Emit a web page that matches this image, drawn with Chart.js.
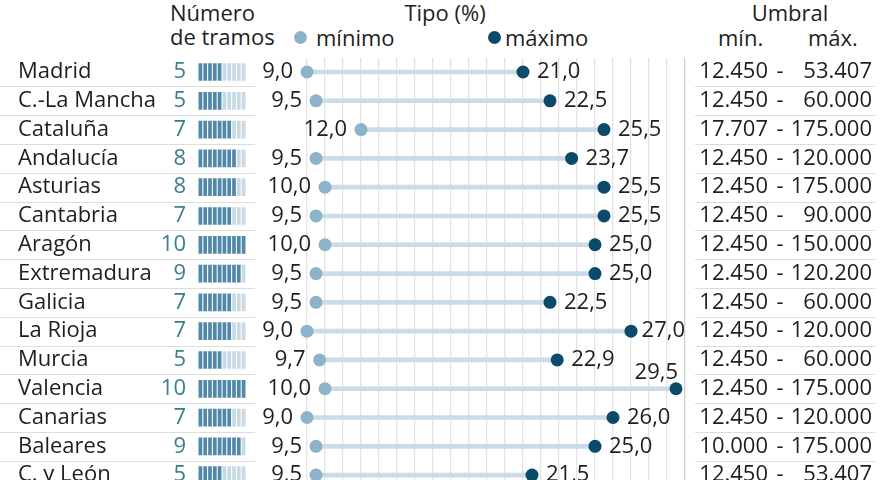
<!DOCTYPE html>
<html lang="es">
<head>
<meta charset="utf-8">
<script src="https://cdn.jsdelivr.net/npm/chart.js@4.4.1/dist/chart.umd.min.js"></script>
<style>
  body { margin: 0; background: #fff; overflow: hidden; font-family: "Open Sans", sans-serif; color: #1e1e1e; }
  #wrap { position: relative; width: 880px; height: 480px; overflow: hidden; }
  canvas { position: absolute; top: 0; }
  .hd { position: absolute; font-size: 22px; line-height: 24px; white-space: nowrap; }
  .dot { position: absolute; width: 13px; height: 13px; border-radius: 50%; }
</style>
</head>
<body>
<div id="wrap">
  <div class="hd" style="left:170px;top:0">Número</div>
  <div class="hd" style="left:170px;top:24px">de tramos</div>
  <div class="hd" style="left:385px;top:0;width:120px;text-align:center">Tipo (%)</div>
  <span class="dot" style="left:294px;top:31px;background:#8db3ca"></span>
  <div class="hd" style="left:316px;top:25px">mínimo</div>
  <span class="dot" style="left:488px;top:31px;background:#0c4a6b"></span>
  <div class="hd" style="left:505px;top:25px">máximo</div>
  <div class="hd" style="left:730px;top:0;width:120px;text-align:center">Umbral</div>
  <div class="hd" style="left:718px;top:25px">mín.</div>
  <div class="hd" style="left:808px;top:25px">máx.</div>
  <canvas id="izq" width="260" height="496" style="left:0"></canvas>
  <canvas id="der" width="620" height="496" style="left:260px"></canvas>
</div>
<script>
// Datos por comunidad
const regiones = ['Madrid', 'C.-La Mancha', 'Cataluña', 'Andalucía', 'Asturias', 'Cantabria', 'Aragón',
  'Extremadura', 'Galicia', 'La Rioja', 'Murcia', 'Valencia', 'Canarias', 'Baleares', 'C. y León'];
const tramos = [5, 5, 7, 8, 8, 7, 10, 9, 7, 7, 5, 10, 7, 9, 5];
const tipoMin = [9.0, 9.5, 12.0, 9.5, 10.0, 9.5, 10.0, 9.5, 9.5, 9.0, 9.7, 10.0, 9.0, 9.5, 9.5];
const tipoMax = [21.0, 22.5, 25.5, 23.7, 25.5, 25.5, 25.0, 25.0, 22.5, 27.0, 22.9, 29.5, 26.0, 25.0, 21.5];
const umbralMin = [12450, 12450, 17707, 12450, 12450, 12450, 12450, 12450, 12450, 12450, 12450, 12450, 12450, 10000, 12450];
const umbralMax = [53407, 60000, 175000, 120000, 175000, 90000, 150000, 120200, 60000, 120000, 60000, 175000, 120000, 175000, 53407];
const maxTramos = 10;

const FONT = '22px "Open Sans"';
const TEXTO = '#1e1e1e';
const LINEA = '#dcdcdc';

const fmtTipo = v => v.toFixed(1).replace('.', ',');
const fmtMiles = v => String(v).replace(/\B(?=(\d{3})+(?!\d))/g, '.');

// Líneas separadoras entre filas
function separadores(chart, x0, x1) {
  const { ctx, scales: { y } } = chart;
  ctx.save();
  ctx.strokeStyle = LINEA;
  ctx.lineWidth = 1;
  for (let i = 0; i < regiones.length - 1; i++) {
    const yy = Math.round((y.getPixelForValue(i) + y.getPixelForValue(i + 1)) / 2) + 0.5;
    ctx.beginPath();
    ctx.moveTo(x0, yy);
    ctx.lineTo(x1, yy);
    ctx.stroke();
  }
  ctx.restore();
}

// Gráfico izquierdo: nombre, número de tramos y barritas
const barritas = [];
for (let k = 0; k < maxTramos; k++) {
  barritas.push({
    data: tramos.map(() => [k + 0.18, k + 0.82]),
    backgroundColor: tramos.map(n => k < n ? '#5088aa' : '#c8d9e4'),
    barThickness: 17,
    grouped: false
  });
}

new Chart(document.getElementById('izq'), {
  type: 'bar',
  data: { labels: regiones, datasets: barritas },
  options: {
    responsive: false,
    animation: false,
    indexAxis: 'y',
    layout: { padding: { left: 198, right: 14, top: 57.6, bottom: 6.4 } },
    plugins: { legend: { display: false }, tooltip: { enabled: false } },
    scales: {
      x: { display: false, min: 0, max: maxTramos },
      y: { type: 'category', display: false, offset: true }
    }
  },
  plugins: [{
    id: 'nombres',
    beforeDatasetsDraw(chart) { separadores(chart, 0, 255); },
    afterDatasetsDraw(chart) {
      const { ctx, scales: { y }, chartArea } = chart;
      ctx.save();
      ctx.font = FONT;
      ctx.textBaseline = 'middle';
      regiones.forEach((r, i) => {
        const py = y.getPixelForValue(i);
        ctx.fillStyle = TEXTO;
        ctx.textAlign = 'left';
        ctx.fillText(r, 18, py);
        ctx.fillStyle = '#3b7e8c';
        ctx.textAlign = 'right';
        ctx.fillText(String(tramos[i]), chartArea.left - 12, py);
      });
      ctx.restore();
    }
  }]
});

// Gráfico derecho: tipo mínimo y máximo + umbrales
const etiquetas = {
  id: 'etiquetas',
  afterDatasetsDraw(chart) {
    const { ctx, scales: { x, y }, chartArea } = chart;
    ctx.save();
    ctx.font = FONT;
    ctx.fillStyle = TEXTO;
    ctx.textBaseline = 'middle';
    regiones.forEach((r, i) => {
      const py = y.getPixelForValue(i);
      ctx.textAlign = 'right';
      ctx.fillText(fmtTipo(tipoMin[i]), x.getPixelForValue(tipoMin[i]) - 14, py);

      const px = x.getPixelForValue(tipoMax[i]);
      const txt = fmtTipo(tipoMax[i]);
      const w = ctx.measureText(txt).width;
      if (px + 9 + w > chartArea.right + 8) {
        // no cabe a la derecha: encima del punto
        ctx.textAlign = 'right';
        ctx.fillText(txt, px + 2, py - 16);
      } else {
        ctx.textAlign = 'left';
        ctx.fillText(txt, Math.min(px + 14, chartArea.right - w), py);
      }

      // columna de umbrales
      const r0 = chartArea.right;
      ctx.textAlign = 'right';
      ctx.fillText(fmtMiles(umbralMin[i]), r0 + 83, py);
      ctx.textAlign = 'center';
      ctx.fillText('-', r0 + 95, py);
      ctx.textAlign = 'right';
      ctx.fillText(fmtMiles(umbralMax[i]), r0 + 187, py);
    });
    ctx.restore();
  },
  beforeDatasetsDraw(chart) {
    separadores(chart, chart.chartArea.right + 10, chart.width - 5);
  }
};

new Chart(document.getElementById('der'), {
  type: 'bar',
  data: {
    labels: regiones,
    datasets: [
      {
        type: 'bar', data: tipoMin.map((v, i) => [v, tipoMax[i]]),
        backgroundColor: '#c9dce7', barThickness: 4, order: 3
      },
      {
        type: 'line', indexAxis: 'y', data: tipoMin, showLine: false, clip: false,
        pointRadius: 6.5, pointBorderWidth: 0, pointBackgroundColor: '#8db3ca', order: 2
      },
      {
        type: 'line', indexAxis: 'y', data: tipoMax, showLine: false, clip: false,
        pointRadius: 6.5, pointBorderWidth: 0, pointBackgroundColor: '#0c4a6b', order: 1
      }
    ]
  },
  options: {
    responsive: false,
    animation: false,
    indexAxis: 'y',
    layout: { padding: { left: 47, right: 195, top: 57.6, bottom: 6.4 } },
    plugins: { legend: { display: false }, tooltip: { enabled: false } },
    scales: {
      x: {
        type: 'linear', min: 9, max: 30, position: 'top',
        grid: { color: c => c.tick && c.tick.value === 30 ? '#cfcfcf' : '#e3e3e3', lineWidth: 1.3, drawTicks: false },
        border: { display: false },
        ticks: { display: false, stepSize: 1 }
      },
      y: { type: 'category', display: false, offset: true }
    }
  },
  plugins: [etiquetas]
});
</script>
</body>
</html>
